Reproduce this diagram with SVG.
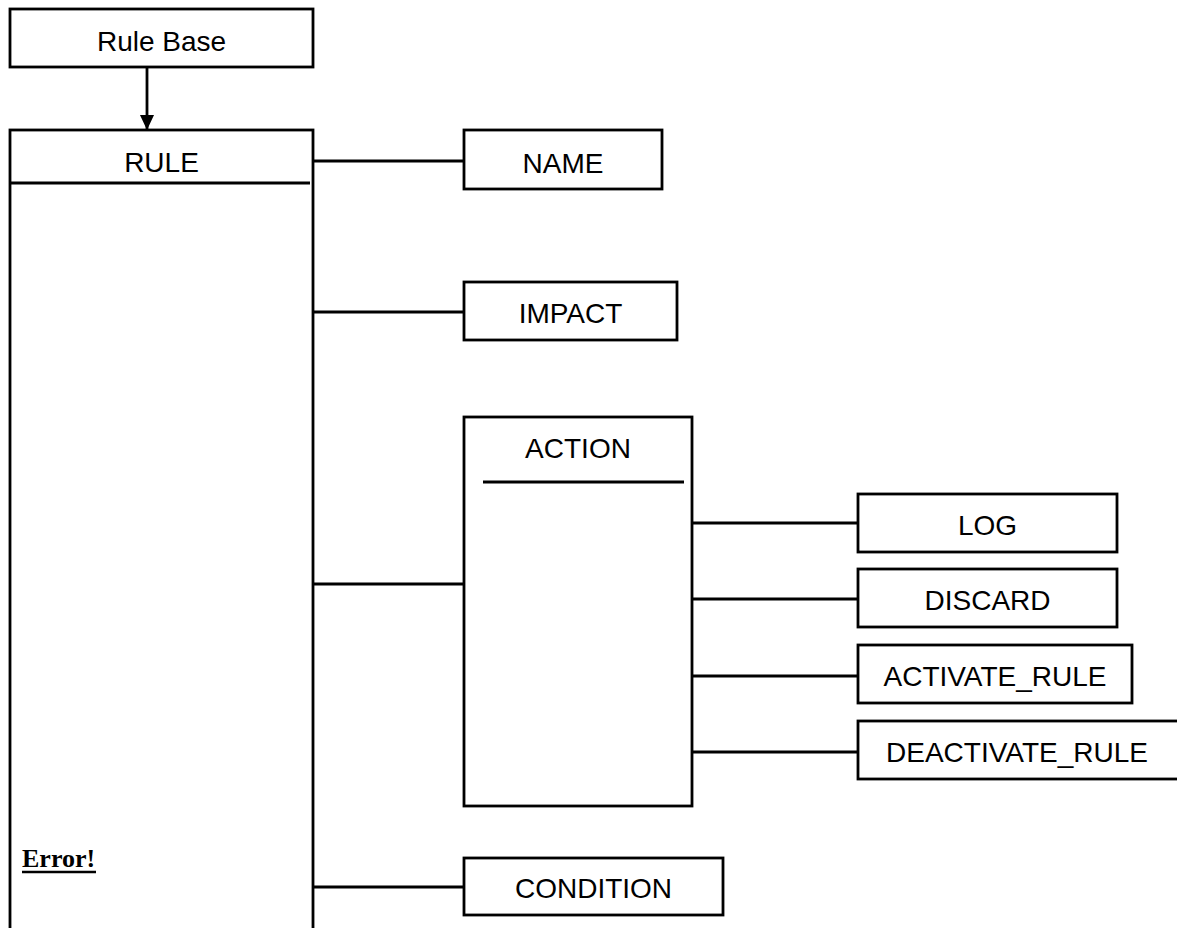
<svg xmlns="http://www.w3.org/2000/svg" width="1177" height="928" viewBox="0 0 1177 928">
  <style>
    .box { fill: #fff; stroke: #000; stroke-width: 2.8; }
    .rule { stroke: #000; stroke-width: 2.8; fill: none; }
    .lbl { font-family: "Liberation Sans", Arial, sans-serif; font-size: 28px; fill: #000; text-anchor: middle; }
    .err { font-family: "Liberation Serif", "Times New Roman", serif; font-size: 26px; font-weight: bold; fill: #000; }
  </style>
  <defs>
    <marker id="arrow" markerWidth="14" markerHeight="15" refX="15" refY="7" orient="auto" markerUnits="userSpaceOnUse">
      <path d="M0,0 L15,7 L0,14 Z" fill="#000"/>
    </marker>
  </defs>
  <rect width="1177" height="928" fill="#fff"/>

  <!-- connectors -->
  <g id="connectors" class="rule">
    <line x1="147" y1="67" x2="147" y2="130" marker-end="url(#arrow)"/>
    <line x1="313" y1="161" x2="464" y2="161"/>
    <line x1="313" y1="312" x2="464" y2="312"/>
    <line x1="313" y1="584" x2="464" y2="584"/>
    <line x1="313" y1="887" x2="464" y2="887"/>
    <line x1="692" y1="523" x2="858" y2="523"/>
    <line x1="692" y1="599" x2="858" y2="599"/>
    <line x1="692" y1="676" x2="858" y2="676"/>
    <line x1="692" y1="752" x2="858" y2="752"/>
  </g>

  <g id="rule-base">
    <rect class="box" x="10" y="9" width="303" height="58"/>
    <text class="lbl" x="161.5" y="51">Rule Base</text>
  </g>

  <g id="rule">
    <rect class="box" x="10" y="130" width="303" height="820"/>
    <line class="rule" x1="10" y1="183" x2="310" y2="183"/>
    <text class="lbl" x="161.5" y="172">RULE</text>
    <text class="err" x="22" y="867">Error!</text>
    <line x1="22" y1="872" x2="96" y2="872" stroke="#000" stroke-width="2.5"/>
  </g>

  <g id="name">
    <rect class="box" x="464" y="130" width="198" height="59"/>
    <text class="lbl" x="563" y="173">NAME</text>
  </g>

  <g id="impact">
    <rect class="box" x="464" y="282" width="213" height="58"/>
    <text class="lbl" x="570.5" y="323">IMPACT</text>
  </g>

  <g id="action">
    <rect class="box" x="464" y="417" width="228" height="389"/>
    <line class="rule" x1="483" y1="482" x2="684" y2="482"/>
    <text class="lbl" x="578" y="458">ACTION</text>
  </g>

  <g id="log">
    <rect class="box" x="858" y="494" width="259" height="58"/>
    <text class="lbl" x="987.5" y="535">LOG</text>
  </g>

  <g id="discard">
    <rect class="box" x="858" y="569" width="259" height="58"/>
    <text class="lbl" x="987.5" y="610">DISCARD</text>
  </g>

  <g id="activate-rule">
    <rect class="box" x="858" y="645" width="274" height="58"/>
    <text class="lbl" x="995" y="686">ACTIVATE_RULE</text>
  </g>

  <g id="deactivate-rule">
    <rect class="box" x="858" y="721" width="340" height="58"/>
    <text class="lbl" x="1017" y="762">DEACTIVATE_RULE</text>
  </g>

  <g id="condition">
    <rect class="box" x="464" y="858" width="259" height="57"/>
    <text class="lbl" x="593.5" y="898">CONDITION</text>
  </g>
</svg>
